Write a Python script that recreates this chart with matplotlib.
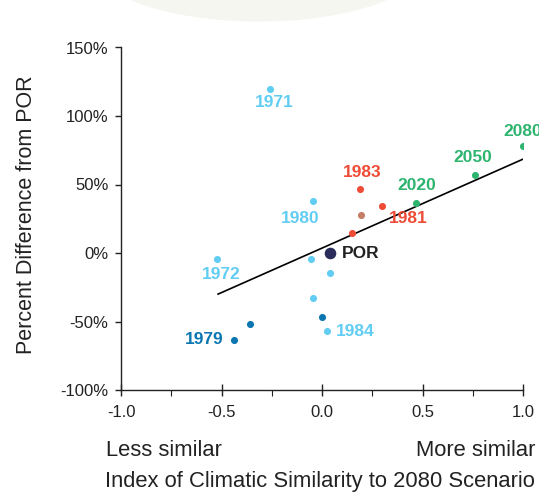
import matplotlib
matplotlib.use("Agg")
import matplotlib.pyplot as plt
from matplotlib.patches import Ellipse
from matplotlib.ticker import MultipleLocator, FuncFormatter

plt.rcParams['font.family'] = ['Liberation Sans', 'DejaVu Sans']

# index of climatic similarity (x) and percent difference from POR (y)
light_x = [-0.26, -0.045, -0.52, -0.055, 0.04, -0.045, 0.025]
light_y = [120, 38, -4.5, -4.5, -14.5, -33, -57]
dark_x = [-0.44, -0.36, 0.0]
dark_y = [-63.5, -52, -47]
red_x = [0.19, 0.30, 0.15]
red_y = [46.5, 34, 14.5]
brown_x = [0.195]
brown_y = [27.5]
green_x = [0.47, 0.76, 1.0]
green_y = [36.5, 57, 78]
por_x = [0.04]
por_y = [0]

trend_x = [-0.517, 1.0]
trend_y = [-30, 68.5]

c_light = "#62cdf3"
c_dark = "#0b76b1"
c_red = "#ee4c36"
c_brown = "#c47e68"
c_green = "#2db46f"
c_por = "#2a2c5c"

fig = plt.figure(figsize=(5.39, 4.93), dpi=100)
fig.add_artist(Ellipse((0.48, 1.08), 0.62, 0.245, transform=fig.transFigure,
                       color="#f6f6f0", zorder=0))
ax = fig.add_axes([121/539, 1-390/493, 402/539, 342.5/493])
ax.patch.set_alpha(0)

ax.plot(trend_x, trend_y, color="black", lw=1.2, zorder=2)
ax.scatter(light_x, light_y, s=26, color=c_light, zorder=3, lw=0)
ax.scatter(dark_x, dark_y, s=26, color=c_dark, zorder=3, lw=0)
ax.scatter(red_x, red_y, s=26, color=c_red, zorder=3, lw=0)
ax.scatter(brown_x, brown_y, s=26, color=c_brown, zorder=3, lw=0)
ax.scatter(green_x, green_y, s=26, color=c_green, zorder=3, lw=0)
ax.scatter(por_x, por_y, s=70, color=c_por, zorder=4, lw=0)

lab = dict(fontsize=12.5, fontweight="bold", va="center", clip_on=False)
ax.text(-0.24, 109.5, "1971", color=c_light, ha="center", **lab)
ax.text(-0.11, 25.5, "1980", color=c_light, ha="center", **lab)
ax.text(-0.50, -16, "1972", color=c_light, ha="center", **lab)
ax.text(0.07, -57.5, "1984", color=c_light, ha="left", **lab)
ax.text(-0.49, -63, "1979", color=c_dark, ha="right", **lab)
ax.text(0.20, 58.5, "1983", color=c_red, ha="center", **lab)
ax.text(0.43, 25.5, "1981", color=c_red, ha="center", **lab)
ax.text(0.47, 49, "2020", color=c_green, ha="center", **lab)
ax.text(0.75, 69.5, "2050", color=c_green, ha="center", **lab)
ax.text(0.90, 89, "2080", color=c_green, ha="left", **lab)
ax.text(0.10, 0, "POR", color="#222222", ha="left", **lab)

ax.set_xlim(-1.0, 1.0)
ax.set_ylim(-100, 150)
ax.xaxis.set_major_locator(MultipleLocator(0.5))
ax.xaxis.set_minor_locator(MultipleLocator(0.25))
ax.yaxis.set_major_locator(MultipleLocator(50))
ax.yaxis.set_major_formatter(FuncFormatter(lambda v, p: f"{v:.0f}%"))
ax.xaxis.set_major_formatter(FuncFormatter(lambda v, p: f"{v:.1f}"))
for s in ["top", "right"]:
    ax.spines[s].set_visible(False)
for s in ["left", "bottom"]:
    ax.spines[s].set_color("#222222")
    ax.spines[s].set_linewidth(1.0)
ax.tick_params(axis="x", which="major", direction="inout", length=9, width=1,
               labelsize=12, pad=6, colors="#222222")
ax.tick_params(axis="x", which="minor", direction="out", length=4, width=0.8, colors="#222222")
ax.tick_params(axis="y", direction="out", length=4, width=1, labelsize=12, pad=5,
               colors="#222222")

ax.set_ylabel("Percent Difference from POR", fontsize=15.5, color="#222222")
ax.yaxis.set_label_coords(-0.21, 0.511)
fig.text(106/539, 1-450/493, "Less similar", fontsize=15.8, color="#222222", va="center")
fig.text(535/539, 1-450/493, "More similar", fontsize=15.8, color="#222222",
         va="center", ha="right")
fig.text(105/539, 1-481/493, "Index of Climatic Similarity to 2080 Scenario",
         fontsize=15.8, color="#222222", va="center")

fig.savefig("out.png", dpi=100)
